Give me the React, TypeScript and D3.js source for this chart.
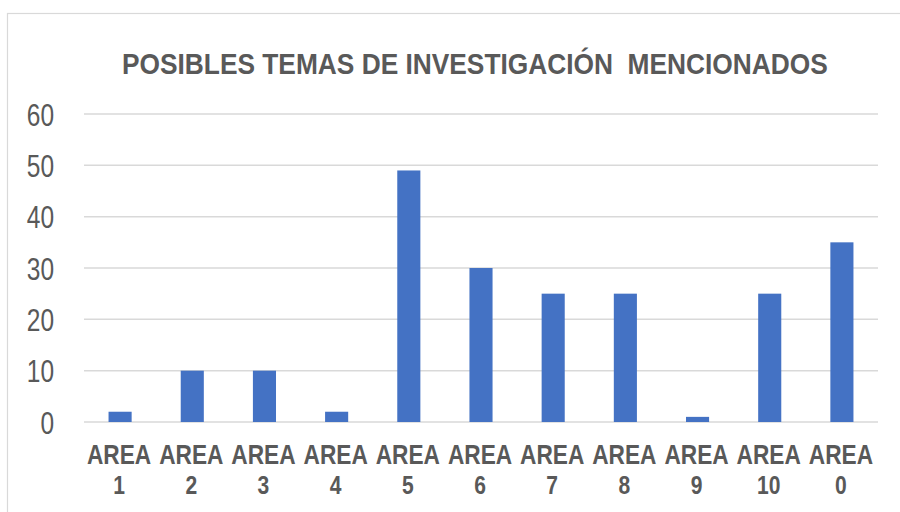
import React from "react";
import * as d3 from "d3";

const categories = ["AREA 1", "AREA 2", "AREA 3", "AREA 4", "AREA 5", "AREA 6", "AREA 7", "AREA 8", "AREA 9", "AREA 10", "AREA 0"];
const values = [2, 10, 10, 2, 49, 30, 25, 25, 1, 25, 35];
const yTicks = [0, 10, 20, 30, 40, 50, 60];
const title = "POSIBLES TEMAS DE INVESTIGACIÓN\u00A0 MENCIONADOS";

const W = 900;
const H = 512;
const plot = { left: 84, right: 878, top: 114, bottom: 422 };
const textColor = "#595959";
const gridColor = "#D9D9D9";
const barColor = "#4472C4";
const font = "'Liberation Sans', Arial, sans-serif";
const sx = 0.79;
const lx = 0.81;

export default function App() {
  const x = d3.scaleBand<string>().domain(categories).range([plot.left, plot.right]).padding(0);
  const y = d3.scaleLinear().domain([0, 60]).range([plot.bottom, plot.top]);
  const barW = x.step() * 0.32;

  return (
    <svg width={W} height={H} style={{ position: "absolute", left: 0, top: 0, background: "#fff" }}>
      <rect x={7.5} y={13.5} width={W} height={H} fill="#fff" stroke={gridColor} strokeWidth={1.2} />
      <text
        transform={`translate(122,74) scale(0.877,1)`}
        fontFamily={font}
        fontWeight="bold"
        fontSize={30}
        fill={textColor}
      >
        {title}
      </text>
      {yTicks.map((t) => (
        <g key={t}>
          <line x1={plot.left} x2={plot.right} y1={y(t)} y2={y(t)} stroke={gridColor} strokeWidth={1.5} />
          <text
            transform={`translate(54,${y(t) + 11.5}) scale(${sx},1)`}
            textAnchor="end"
            fontFamily={font}
            fontSize={31}
            fill={textColor}
          >
            {t}
          </text>
        </g>
      ))}
      {categories.map((c, i) => {
        const cx = (x(c) as number) + x.step() / 2;
        const [l1, l2] = c.split(" ");
        return (
          <g key={c}>
            <rect
              x={cx - barW / 2}
              y={y(values[i])}
              width={barW}
              height={y(0) - y(values[i])}
              fill={barColor}
            />
            <text
              transform={`translate(${cx - 1},463.5) scale(${lx},1)`}
              textAnchor="middle"
              fontFamily={font}
              fontWeight="bold"
              fontSize={28}
              fill={textColor}
            >
              {l1}
            </text>
            <text
              transform={`translate(${cx - 1},494) scale(${lx},1)`}
              textAnchor="middle"
              fontFamily={font}
              fontWeight="bold"
              fontSize={26}
              fill={textColor}
            >
              {l2}
            </text>
          </g>
        );
      })}
    </svg>
  );
}
